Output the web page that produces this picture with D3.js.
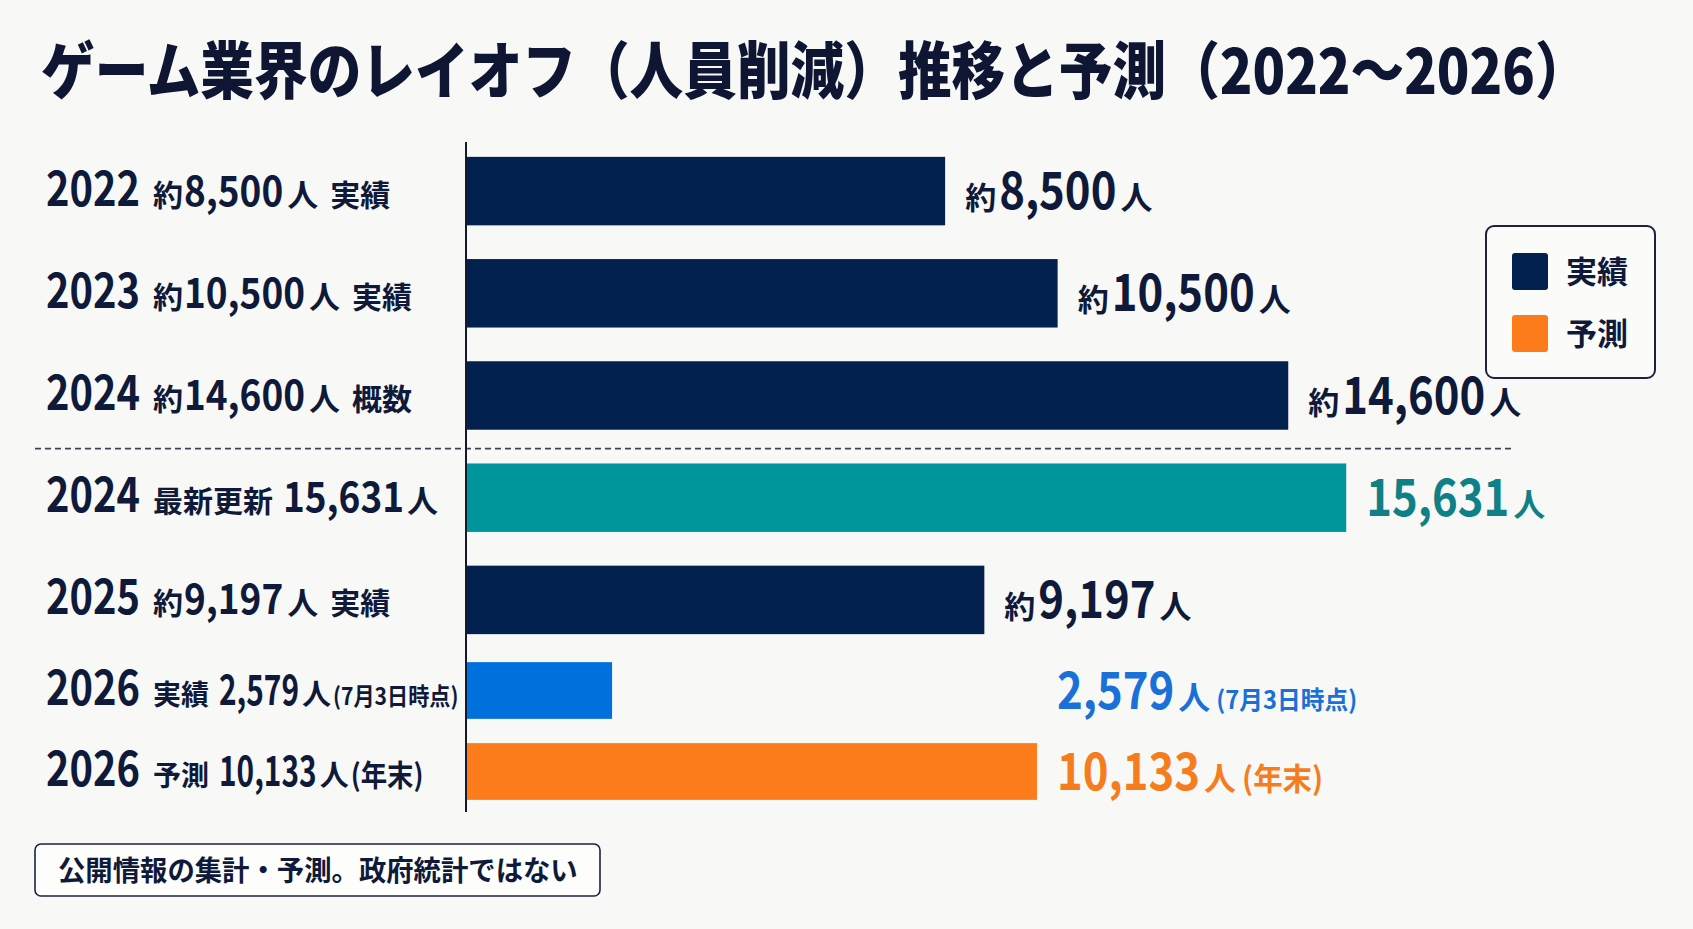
<!DOCTYPE html>
<html><head><meta charset="utf-8">
<script src="https://cdn.jsdelivr.net/npm/d3@7"></script>
<style>
html,body{margin:0;padding:0;background:#f8f8f6;}
svg{display:block;}
text{font-family:"Noto Sans CJK JP","Noto Sans",sans-serif;}
</style></head><body>
<svg id="chart" width="1693" height="929"></svg>
<script>
// ---- data ----
const title = "ゲーム業界のレイオフ（人員削減）推移と予測（2022〜2026）";
const years = ["2022","2023","2024","2024","2025","2026","2026"];
const values = [8500,10500,14600,15631,9197,2579,10133];
const approx = [true,true,true,false,true,false,false];
const statuses = ["実績","実績","概数","最新更新","実績","実績","予測"];
const notes = ["","","","","","(7月3日時点)","(年末)"];
const kinds = ["actual","actual","actual","updated","actual","partial","forecast"];
const groups = [0,0,0,0,0,1,1];
const legendLabels = ["実績","予測"];
const legendKinds = ["actual","forecast"];
const footnote = "公開情報の集計・予測。政府統計ではない";
const xMax = 16000;

// ---- styles ----
const barColor = {actual:"#02214f", updated:"#00959a", partial:"#0070dc", forecast:"#fc7b1a"};
const labelColor = {actual:"#0f1a3a", updated:"#0f8086", partial:"#1a70d8", forecast:"#f57d1d"};
const noteSize = {partial:24, forecast:30};
const ink = "#0f1a3a";

const svg = d3.select("#chart");
svg.append("rect").attr("width",1693).attr("height",929).attr("fill","#f8f8f6");

const fmt = d3.format(",");

function rich(g, x, y, parts, color) {
  let cx = x;
  parts.forEach(p => {
    const sx = p.sx || 1;
    const t = g.append("text")
      .attr("transform", `translate(${cx},${y}) scale(${sx},1)`)
      .attr("font-size", p.size).attr("font-weight", p.w || 700)
      .attr("fill", color).text(p.t);
    cx += t.node().getComputedTextLength() * sx + (p.gap || 0);
  });
  return cx;
}
function fitText(g, x, y, str, size, weight, color, targetW) {
  const t = g.append("text").attr("font-size", size).attr("font-weight", weight)
    .attr("fill", color).text(str);
  const w = t.node().getComputedTextLength();
  t.attr("transform", `translate(${x},${y}) scale(${targetW / w},1)`);
  return t;
}

// ---- title ----
fitText(svg, 41, 94, title, 62, 900, "#0e1633", 1548);

// ---- scales ----
const idx = d3.range(values.length);
const x = d3.scaleLinear().domain([0, xMax]).range([467, 1367]);
const y0 = d3.scaleBand().domain(idx.filter(i => groups[i] === 0)).range([140, 651])
  .paddingInner(0.33).paddingOuter(0.165);
const y1 = d3.scaleBand().domain(idx.filter(i => groups[i] === 1)).range([650, 812])
  .paddingInner(0.3).paddingOuter(0.15);
const yS = i => groups[i] === 0 ? y0 : y1;
const yc = i => yS(i)(i) + yS(i).bandwidth() / 2;

// ---- separator (between approximate figures and latest update) ----
const sepY = (y0(2) + y0.bandwidth() + y0(3)) / 2 + 2;
svg.append("line").attr("x1", 35).attr("x2", 1512).attr("y1", sepY).attr("y2", sepY)
  .attr("stroke", "#3f4454").attr("stroke-width", 1.7).attr("stroke-dasharray", "6,4");

// ---- bars ----
svg.append("g").selectAll("rect").data(idx).join("rect")
  .attr("x", x(0)).attr("y", i => yS(i)(i))
  .attr("width", i => x(values[i]) - x(0)).attr("height", i => yS(i).bandwidth())
  .attr("fill", i => barColor[kinds[i]]);

// ---- axis line ----
svg.append("line").attr("x1", 466).attr("x2", 466)
  .attr("y1", y0.range()[0] + 2).attr("y2", y1.range()[1])
  .attr("stroke", "#14192e").attr("stroke-width", 2);

// ---- left category labels ----
const gl = svg.append("g");
idx.forEach(i => {
  const by = yc(i) + 14.5;
  const compact = groups[i] === 1;
  rich(gl, 46, by, [{t: years[i], size: 48, sx: 0.83}], ink);
  let parts;
  if (approx[i]) {
    parts = [{t:"約", size:30, gap:1}, {t:fmt(values[i]), size:42, sx:0.88, gap:4},
             {t:"人", size:31, gap:12}, {t:statuses[i], size:30}];
  } else {
    parts = [{t:statuses[i], size: compact ? 28 : 30, gap: compact ? 10 : 10},
             {t:fmt(values[i]), size:42, sx: compact ? 0.71 : 0.88, gap:3},
             {t:"人", size: compact ? 29 : 31, gap:2}];
    if (notes[i]) parts.push({t:notes[i], size:noteSize[kinds[i]], sx:0.88});
  }
  rich(gl, 153, by, parts, ink);
});

// ---- value labels ----
const gv = svg.append("g");
idx.forEach(i => {
  const groupMax = d3.max(idx.filter(j => groups[j] === groups[i] && groups[i] === 1), j => values[j]);
  const lx = (groups[i] === 1 ? x(groupMax) : x(values[i])) + 20;
  const by = yc(i) + 18;
  const parts = [];
  if (approx[i]) parts.push({t:"約", size:31, gap:3});
  parts.push({t:fmt(values[i]), size:52, sx:0.84, gap:4});
  parts.push({t:"人", size:32, gap:6});
  if (notes[i]) parts.push({t:notes[i], size:noteSize[kinds[i]] + 1, sx:0.95});
  rich(gv, lx, by, parts, labelColor[kinds[i]]);
});

// ---- legend ----
const lg = svg.append("g");
lg.append("rect").attr("x", 1486).attr("y", 226).attr("width", 169).attr("height", 152)
  .attr("rx", 8).attr("fill", "#fbfbfa").attr("stroke", "#1c2340").attr("stroke-width", 2);
legendKinds.forEach((k, i) => {
  lg.append("rect").attr("x", 1512).attr("y", 253 + i * 62).attr("width", 36).attr("height", 37)
    .attr("rx", 3).attr("fill", barColor[k]);
  lg.append("text").attr("x", 1566).attr("y", 283 + i * 62).attr("font-size", 31)
    .attr("font-weight", 700).attr("fill", ink).text(legendLabels[i]);
});

// ---- footnote ----
const gf = svg.append("g");
gf.append("rect").attr("x", 35).attr("y", 844).attr("width", 565).attr("height", 52)
  .attr("rx", 6).attr("fill", "#fdfdfc").attr("stroke", "#1b2240").attr("stroke-width", 1.6);
fitText(gf, 58, 881, footnote, 28, 700, ink, 520);
</script>
</body></html>
